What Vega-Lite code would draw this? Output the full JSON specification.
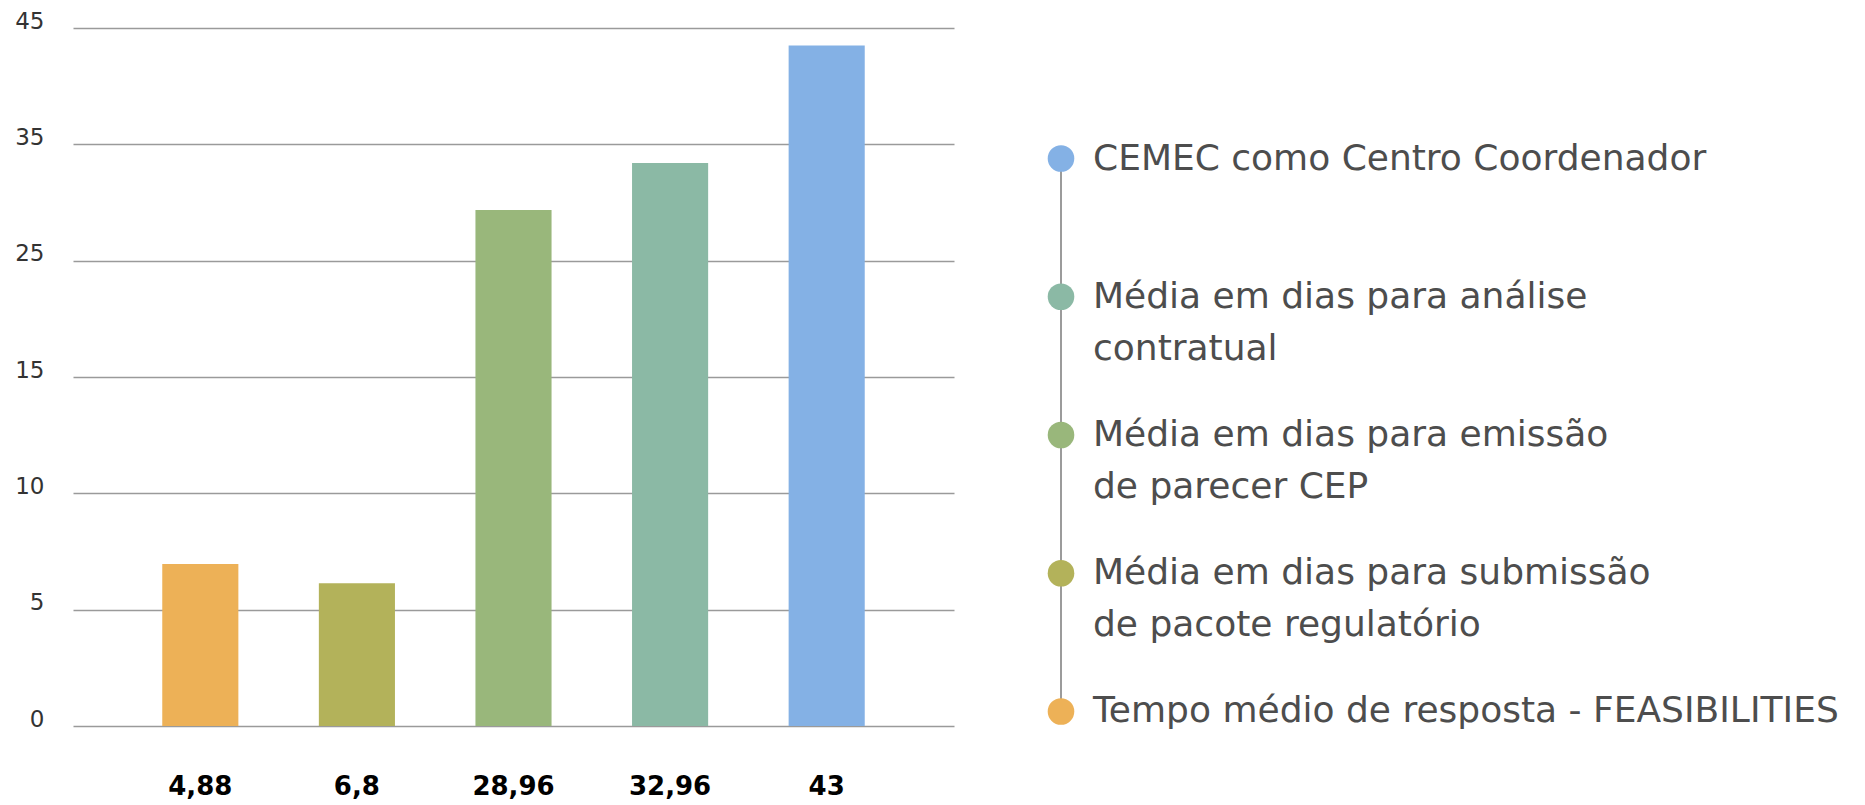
{
  "$schema": "https://vega.github.io/schema/vega-lite/v6.json",
  "padding": {"left": 14, "top": 10, "right": 0, "bottom": 0},
  "background": "#ffffff",
  "datasets": {
    "barras": [
      {"rotulo": "4,88", "categoria": "Tempo médio de resposta - FEASIBILITIES", "altura": 6.96},
      {"rotulo": "6,8", "categoria": "Média em dias para submissão de pacote regulatório", "altura": 6.14},
      {"rotulo": "28,96", "categoria": "Média em dias para emissão de parecer CEP", "altura": 29.35},
      {"rotulo": "32,96", "categoria": "Média em dias para análise contratual", "altura": 33.4},
      {"rotulo": "43", "categoria": "CEMEC como Centro Coordenador", "altura": 43.5}
    ],
    "legenda": [
      {"ordem": 0, "categoria": "CEMEC como Centro Coordenador", "texto": "CEMEC como Centro Coordenador"},
      {"ordem": 1, "categoria": "Média em dias para análise contratual", "texto": "Média em dias para análise\ncontratual"},
      {"ordem": 2, "categoria": "Média em dias para emissão de parecer CEP", "texto": "Média em dias para emissão\nde parecer CEP"},
      {"ordem": 3, "categoria": "Média em dias para submissão de pacote regulatório", "texto": "Média em dias para submissão\nde pacote regulatório"},
      {"ordem": 4, "categoria": "Tempo médio de resposta - FEASIBILITIES", "texto": "Tempo médio de resposta - FEASIBILITIES"}
    ]
  },
  "spacing": 93,
  "hconcat": [
    {
      "width": 881,
      "height": 698,
      "data": {"name": "barras"},
      "mark": {"type": "bar"},
      "encoding": {
        "x": {
          "field": "rotulo",
          "type": "nominal",
          "sort": null,
          "scale": {"paddingInner": 0.514, "paddingOuter": 0.57},
          "axis": {
            "title": null,
            "labelAngle": 0,
            "labelFont": "DejaVu Sans",
            "labelFontWeight": "bold",
            "labelFontSize": 26,
            "labelColor": "#000000",
            "labelBaseline": "alphabetic",
            "labelPadding": 68,
            "ticks": false,
            "tickSize": 0,
            "domain": false,
            "grid": false
          }
        },
        "y": {
          "field": "altura",
          "type": "quantitative",
          "scale": {
            "domain": [0, 5, 10, 15, 25, 35, 45],
            "range": [698, 581.67, 465.33, 349, 232.67, 116.33, 0],
            "nice": false,
            "zero": false
          },
          "axis": {
            "title": null,
            "values": [0, 5, 10, 15, 25, 35, 45],
            "labelFont": "DejaVu Sans",
            "labelFontSize": 23,
            "labelColor": "#333333",
            "labelAlign": "right",
            "labelBaseline": "alphabetic",
            "labelPadding": 29,
            "ticks": false,
            "tickSize": 0,
            "domain": false,
            "grid": true,
            "gridColor": "#9a9a9a",
            "gridWidth": 1.5
          }
        },
        "color": {
          "field": "categoria",
          "type": "nominal",
          "scale": {
            "domain": [
              "CEMEC como Centro Coordenador",
              "Média em dias para análise contratual",
              "Média em dias para emissão de parecer CEP",
              "Média em dias para submissão de pacote regulatório",
              "Tempo médio de resposta - FEASIBILITIES"
            ],
            "range": ["#84B1E5", "#8BB9A5", "#99B77B", "#B3B25A", "#EDB157"]
          },
          "legend": null
        }
      }
    },
    {
      "width": 760,
      "height": 698,
      "data": {"name": "legenda"},
      "encoding": {
        "y": {
          "field": "ordem",
          "type": "quantitative",
          "scale": {"domain": [-0.944, 4.105], "reverse": true, "nice": false, "zero": false},
          "axis": null
        }
      },
      "layer": [
        {
          "mark": {"type": "rule", "color": "#7a7a7a", "strokeWidth": 1.5},
          "encoding": {
            "x": {"datum": 0, "type": "quantitative", "scale": {"domain": [0, 1]}, "axis": null},
            "y": {"aggregate": "min", "field": "ordem", "type": "quantitative"},
            "y2": {"aggregate": "max", "field": "ordem"}
          }
        },
        {
          "mark": {"type": "point", "shape": "circle", "filled": true, "size": 707, "opacity": 1},
          "encoding": {
            "x": {"datum": 0, "type": "quantitative"},
            "color": {"field": "categoria", "type": "nominal", "legend": null}
          }
        },
        {
          "mark": {
            "type": "text",
            "align": "left",
            "baseline": "alphabetic",
            "dx": 32,
            "dy": 11,
            "font": "DejaVu Sans",
            "fontSize": 36,
            "color": "#4d4d4d",
            "lineBreak": "\n",
            "lineHeight": 52
          },
          "encoding": {
            "x": {"datum": 0, "type": "quantitative"},
            "text": {"field": "texto"}
          }
        }
      ]
    }
  ],
  "config": {
    "view": {"stroke": null}
  }
}
